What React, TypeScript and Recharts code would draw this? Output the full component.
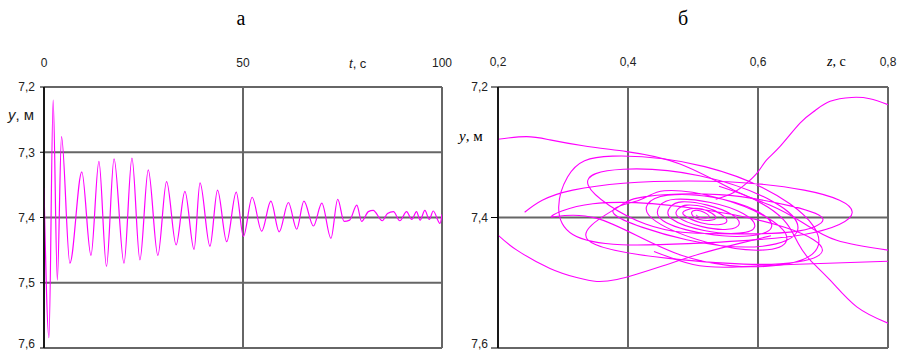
import React from "react";
import { LineChart, Line, XAxis, YAxis, CartesianGrid } from "recharts";

// panel а: y(t)
const T_VALUES = [
  0, 1.25, 2.3, 3.35, 4.4, 6.5, 9.5, 11.8, 13.8, 15.7, 17.6, 20.1, 22.1, 24.1,
  26.2, 28.6, 30.8, 33.2, 35.4, 37.7, 39.2, 41.7, 43.6, 45.9, 48.3, 50.1, 52.3,
  54.7, 57.0, 59.1, 61.4, 63.5, 65.3, 67.7, 69.8, 72.1, 73.8, 75.4, 76.8, 78.6,
  79.8, 81.5, 82.7, 85.0, 86.3, 87.8, 89.4, 91.1, 92.4, 93.6, 94.5, 95.7, 96.8,
  97.8, 99.5, 100,
];
const Y_VALUES = [
  7.355, 7.584, 7.22, 7.496, 7.276, 7.47, 7.33, 7.458, 7.314, 7.475, 7.31, 7.47,
  7.309, 7.465, 7.327, 7.458, 7.345, 7.442, 7.36, 7.449, 7.347, 7.444, 7.358,
  7.437, 7.361, 7.429, 7.369, 7.421, 7.375, 7.422, 7.377, 7.418, 7.375, 7.413,
  7.378, 7.432, 7.372, 7.406, 7.404, 7.381, 7.406, 7.391, 7.389, 7.405, 7.394,
  7.391, 7.405, 7.391, 7.403, 7.391, 7.404, 7.389, 7.403, 7.39, 7.409, 7.395,
];

const T_TICKS = [0, 50, 100];
const Y_TICKS_A = [7.2, 7.3, 7.4, 7.5, 7.6];

// panel б: y(z), read as pieces of the trajectory
const Z_TICKS = [0.2, 0.4, 0.6, 0.8];
const Y_TICKS_B = [7.2, 7.4, 7.6];

const ARC_TOP_RIGHT = [
  [0.8, 7.227], [0.772, 7.218], [0.744, 7.216], [0.711, 7.222], [0.688, 7.236],
  [0.665, 7.255], [0.634, 7.291], [0.613, 7.312], [0.6, 7.33], [0.583, 7.347],
  [0.562, 7.362], [0.535, 7.372],
];
const LINE_TOP_LEFT = [
  [0.2, 7.28], [0.244, 7.276], [0.28, 7.281], [0.331, 7.29], [0.398, 7.299],
  [0.48, 7.318], [0.567, 7.36], [0.618, 7.381], [0.669, 7.408], [0.721, 7.435],
  [0.8, 7.45],
];
const EXIT_LOW_RIGHT = [
  [0.54, 7.352], [0.58, 7.366], [0.615, 7.384], [0.644, 7.409], [0.662, 7.44],
  [0.68, 7.465], [0.711, 7.496], [0.752, 7.537], [0.8, 7.562],
];
const CURVE_BOTTOM = [
  [0.2, 7.427], [0.229, 7.45], [0.28, 7.478], [0.321, 7.492], [0.352, 7.498],
  [0.383, 7.495], [0.413, 7.487], [0.454, 7.474], [0.51, 7.456], [0.57, 7.44],
  [0.62, 7.428],
];
const FLAT_RIGHT = [
  [0.44, 7.452], [0.5, 7.472], [0.56, 7.476], [0.65, 7.472], [0.8, 7.467],
];
const SPIRAL = [
  [0.241, 7.392], [0.315, 7.358], [0.493, 7.344], [0.671, 7.358], [0.745, 7.392],
  [0.671, 7.426], [0.493, 7.44], [0.315, 7.426],
  [0.307, 7.338], [0.376, 7.306], [0.518, 7.322], [0.649, 7.379], [0.693, 7.442],
  [0.624, 7.474], [0.482, 7.458], [0.351, 7.401],
  [0.282, 7.399], [0.346, 7.379], [0.495, 7.385], [0.641, 7.415], [0.699, 7.451],
  [0.634, 7.471], [0.485, 7.465], [0.339, 7.435],
  [0.38, 7.387], [0.427, 7.368], [0.54, 7.365], [0.653, 7.383], [0.7, 7.403],
  [0.653, 7.422], [0.54, 7.425], [0.427, 7.41],
  [0.339, 7.351], [0.393, 7.326], [0.51, 7.336], [0.622, 7.375], [0.661, 7.419],
  [0.607, 7.444], [0.49, 7.434], [0.379, 7.395],
  [0.416, 7.374], [0.456, 7.359], [0.539, 7.37], [0.617, 7.402], [0.644, 7.435],
  [0.604, 7.45], [0.521, 7.438], [0.443, 7.406],
  [0.43, 7.38], [0.461, 7.366], [0.53, 7.369], [0.596, 7.389], [0.621, 7.414],
  [0.589, 7.428], [0.52, 7.425], [0.454, 7.405],
  [0.449, 7.382], [0.473, 7.372], [0.527, 7.377], [0.577, 7.394], [0.595, 7.414],
  [0.571, 7.424], [0.517, 7.42], [0.467, 7.402],
  [0.465, 7.384], [0.483, 7.376], [0.522, 7.381], [0.559, 7.395], [0.571, 7.41],
  [0.553, 7.418], [0.514, 7.414], [0.477, 7.399],
  [0.478, 7.386], [0.491, 7.381], [0.518, 7.384], [0.543, 7.395], [0.552, 7.406],
  [0.539, 7.411], [0.512, 7.408], [0.487, 7.397],
  [0.489, 7.389], [0.514, 7.387], [0.535, 7.401], [0.51, 7.403],
  [0.498, 7.392], [0.512, 7.39], [0.525, 7.399], [0.511, 7.4], [0.505, 7.396],
];
const PHASE_SEGMENTS = [ARC_TOP_RIGHT, LINE_TOP_LEFT, EXIT_LOW_RIGHT, CURVE_BOTTOM, FLAT_RIGHT, SPIRAL];

const seriesA = T_VALUES.map((t, i) => ({ t, y: Y_VALUES[i] }));
const phaseData = PHASE_SEGMENTS.map((seg) => seg.map(([z, y]) => ({ z, y })));

const comma = (v: number) => String(v).replace(".", ",");
const SANS = "'Liberation Sans', Arial, sans-serif";
const SERIF = "'Liberation Serif', 'Times New Roman', serif";
const MAGENTA = "#ff00ff";
const GRID = "#666";

const topTick = (baseline: number) => (props: any) => (
  <text x={props.x} y={baseline} textAnchor="middle" fontSize={12} fontFamily={SANS} fill="#222">
    {comma(props.payload.value)}
  </text>
);

// the bottom label (7,6) sits on the page edge, so it is lifted a little
const leftTick = (props: any) => {
  const last = props.payload.value === 7.6;
  return (
    <text
      x={props.x}
      y={props.y}
      dy={last ? 0 : "0.355em"}
      textAnchor="end"
      fontSize={12}
      fontFamily={SANS}
      fill="#222"
    >
      {comma(props.payload.value)}
    </text>
  );
};

export default function App() {
  return (
    <div style={{ position: "absolute", left: 0, top: 0, width: 897, height: 351, background: "#fff" }}>
      <div style={{ position: "absolute", left: 0, top: 0 }}>
        <LineChart width={460} height={351} margin={{ top: 67, right: 18, bottom: 3, left: 0 }}>
          <CartesianGrid stroke={GRID} strokeWidth={2} />
          <XAxis
            dataKey="t"
            type="number"
            orientation="top"
            domain={[0, 100]}
            ticks={T_TICKS}
            interval={0}
            height={20}
            axisLine={false}
            tickLine={false}
            tick={topTick(67)}
            allowDataOverflow
          />
          <YAxis
            type="number"
            domain={[7.2, 7.6]}
            ticks={Y_TICKS_A}
            interval={0}
            reversed
            width={44}
            axisLine={{ stroke: "#000", strokeWidth: 1.5 }}
            tickLine={{ stroke: "#000" }}
            tickSize={4}
            tickMargin={5}
            tick={leftTick}
            allowDataOverflow
          />
          <Line
            data={seriesA}
            dataKey="y"
            type="monotone"
            stroke={MAGENTA}
            strokeWidth={1.2}
            dot={false}
            isAnimationActive={false}
          />
        </LineChart>
      </div>
      <div style={{ position: "absolute", left: 450, top: 0 }}>
        <LineChart width={447} height={351} margin={{ top: 67, right: 9, bottom: 3, left: 0 }}>
          <CartesianGrid stroke={GRID} strokeWidth={2} />
          <XAxis
            dataKey="z"
            type="number"
            orientation="top"
            domain={[0.2, 0.8]}
            ticks={Z_TICKS}
            interval={0}
            height={20}
            axisLine={false}
            tickLine={false}
            tick={topTick(66)}
            allowDataOverflow
          />
          <YAxis
            type="number"
            domain={[7.2, 7.6]}
            ticks={Y_TICKS_B}
            interval={0}
            reversed
            width={48}
            axisLine={{ stroke: "#000", strokeWidth: 1.5 }}
            tickLine={{ stroke: "#000" }}
            tickSize={7}
            tickMargin={3}
            tick={leftTick}
            allowDataOverflow
          />
          {phaseData.map((d, i) => (
            <Line
              key={i}
              data={d}
              dataKey="y"
              type="natural"
              stroke={MAGENTA}
              strokeWidth={1.1}
              dot={false}
              isAnimationActive={false}
            />
          ))}
        </LineChart>
      </div>
      <svg width={897} height={351} style={{ position: "absolute", left: 0, top: 0, pointerEvents: "none" }}>
        <text x={241} y={25} textAnchor="middle" fontSize={20} fontFamily={SERIF} fill="#000">а</text>
        <text x={683} y={25} textAnchor="middle" fontSize={20} fontFamily={SERIF} fill="#000">б</text>
        <text x={8} y={120} fontSize={15} fontFamily={SANS} fill="#222">
          <tspan fontStyle="italic">y</tspan>, м
        </text>
        <text x={349} y={68} fontSize={13} fontFamily={SANS} fill="#222">
          <tspan fontStyle="italic">t</tspan>, с
        </text>
        <text x={459} y={141} fontSize={15} fontFamily={SERIF} fill="#000">
          <tspan fontStyle="italic">y</tspan>, м
        </text>
        <text x={827} y={66} fontSize={14} fontFamily={SERIF} fill="#000">
          <tspan fontStyle="italic">z</tspan>, с
        </text>
      </svg>
    </div>
  );
}
